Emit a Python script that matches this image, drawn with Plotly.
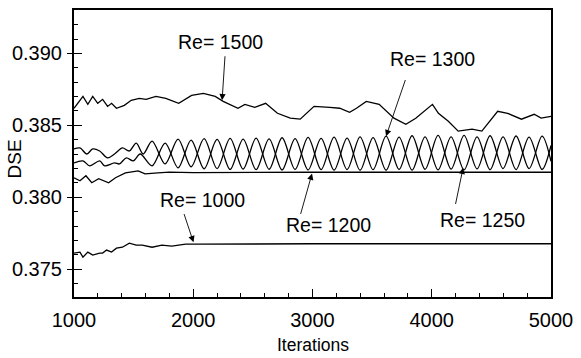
import plotly.graph_objects as go

# ---------------- data ----------------
re1500_x = [1000, 1075, 1116, 1157, 1199, 1240, 1282, 1315, 1356, 1422, 1480, 1547, 1605, 1687,
            1770, 1878, 1986, 2085, 2184, 2251, 2375, 2433, 2516, 2607, 2706, 2814, 2897, 3013,
            3145, 3228, 3311, 3369, 3451, 3559, 3683, 3783, 3866, 4006, 4056, 4139, 4222, 4338,
            4420, 4503, 4553, 4636, 4752, 4859, 4917, 5000]
re1500_y = [0.38619, 0.38701, 0.38646, 0.38701, 0.38653, 0.38681, 0.38632, 0.38653, 0.38619, 0.38639,
            0.38674, 0.38688, 0.38681, 0.38701, 0.38688, 0.38653, 0.38708, 0.38722, 0.38701, 0.38667,
            0.38619, 0.38646, 0.38625, 0.38653, 0.38584, 0.38550, 0.38543, 0.38632, 0.38625, 0.38619,
            0.38591, 0.38619, 0.38667, 0.38646, 0.38550, 0.38508, 0.38550, 0.38646, 0.38584, 0.38529,
            0.38460, 0.38474, 0.38460, 0.38550, 0.38598, 0.38584, 0.38543, 0.38577, 0.38550, 0.38563]

re1300_x = [1000, 1050, 1108, 1157, 1215, 1282, 1340, 1406, 1464, 1522, 1580,
            1655, 1764, 1873, 1982, 2091, 2200, 2309, 2418, 2527, 2636, 2745, 2854, 2963, 3072,
            3181, 3290, 3399, 3508, 3617, 3726, 3835, 3944, 4053, 4162, 4271, 4380, 4489, 4598,
            4707, 4816, 4925, 5000]
re1300_y = [0.38336, 0.38343, 0.38301, 0.38336, 0.38322, 0.38274, 0.38301, 0.38343, 0.38322, 0.38377, 0.38301,
            0.38391, 0.38232, 0.38405, 0.38212, 0.38408, 0.38200, 0.38410, 0.38196, 0.38412, 0.38195,
            0.38414, 0.38194, 0.38416, 0.38193, 0.38418, 0.38193, 0.38420, 0.38192, 0.38425, 0.38194,
            0.38428, 0.38195, 0.38430, 0.38196, 0.38430, 0.38198, 0.38428, 0.38200, 0.38426, 0.38200,
            0.38425, 0.38250]

re1250_x = [1000, 1075, 1132, 1215, 1257, 1340, 1381, 1439, 1497, 1555,
            1655, 1764, 1873, 1982, 2091, 2200, 2309, 2418, 2527, 2636, 2745, 2854, 2963, 3072,
            3181, 3290, 3399, 3508, 3617, 3726, 3835, 3944, 4053, 4162, 4271, 4380, 4489, 4598,
            4707, 4816, 4925, 5000]
re1250_y = [0.38239, 0.38253, 0.38219, 0.38253, 0.38219, 0.38239, 0.38232, 0.38274, 0.38253, 0.38301,
            0.38219, 0.38377, 0.38205, 0.38398, 0.38198, 0.38402, 0.38194, 0.38405, 0.38192, 0.38406,
            0.38190, 0.38408, 0.38190, 0.38410, 0.38189, 0.38412, 0.38188, 0.38415, 0.38188, 0.38418,
            0.38189, 0.38420, 0.38190, 0.38420, 0.38190, 0.38420, 0.38192, 0.38420, 0.38193, 0.38418,
            0.38194, 0.38360]

re1200_x = [1000, 1050, 1100, 1149, 1207, 1290, 1348, 1431, 1538, 1596, 1704, 1800, 2000, 2500, 3000, 4000, 5000]
re1200_y = [0.38136, 0.38115, 0.38150, 0.38101, 0.38129, 0.38101, 0.38136, 0.38170, 0.38184, 0.38163,
            0.38170, 0.38175, 0.38172, 0.38175, 0.38174, 0.38174, 0.38174]

re1000_x = [1000, 1050, 1075, 1116, 1157, 1215, 1240, 1273, 1315, 1356, 1406, 1464, 1522, 1572,
            1655, 1737, 1820, 1936, 2044, 2500, 3000, 5000]
re1000_y = [0.37612, 0.37619, 0.37584, 0.37619, 0.37598, 0.37612, 0.37612, 0.37633, 0.37619, 0.37646,
            0.37653, 0.37681, 0.37667, 0.37667, 0.37653, 0.37667, 0.37660, 0.37674, 0.37674, 0.37676,
            0.37677, 0.37677]

x_ticks = [1000, 2000, 3000, 4000, 5000]
x_tick_text = ["1000", "2000", "3000", "4000", "5000"]
y_ticks = [0.375, 0.380, 0.385, 0.390]
y_tick_text = ["0.375", "0.380", "0.385", "0.390"]

labels = ["Re= 1500", "Re= 1300", "Re= 1000", "Re= 1200", "Re= 1250"]
label_x = [2226, 4006, 2081, 3133, 4425]
label_y = [0.39081, 0.38963, 0.37981, 0.37808, 0.37839]
arrow_tail_x = [2267, 3783, 1919, 2897, 4197]
arrow_tail_y = [0.38991, 0.38826, 0.37894, 0.37874, 0.37943]
arrow_head_x = [2242, 3617, 2002, 2996, 4263]
arrow_head_y = [0.38674, 0.38425, 0.37687, 0.38165, 0.38205]

X_RANGE = [1000, 5000]
Y_RANGE = [0.37307, 0.39302]

FONT = "Liberation Sans, Arial, sans-serif"

fig = go.Figure()
line = dict(color="black", width=1.3)
fig.add_trace(go.Scatter(x=re1500_x, y=re1500_y, mode="lines", line=line))
fig.add_trace(go.Scatter(x=re1300_x, y=re1300_y, mode="lines",
                         line=dict(color="black", width=1.3, shape="spline", smoothing=0.9)))
fig.add_trace(go.Scatter(x=re1250_x, y=re1250_y, mode="lines",
                         line=dict(color="black", width=1.3, shape="spline", smoothing=0.9)))
fig.add_trace(go.Scatter(x=re1200_x, y=re1200_y, mode="lines", line=line))
fig.add_trace(go.Scatter(x=re1000_x, y=re1000_y, mode="lines", line=line))
# helper trace so the second (tick-only) y axis is drawn
fig.add_trace(go.Scatter(x=[None], y=[None], yaxis="y2", mode="lines", hoverinfo="skip"))

annotations = []
for t, lx, ly in zip(labels, label_x, label_y):
    annotations.append(dict(x=lx, y=ly, xref="x", yref="y", text=t, showarrow=False,
                            font=dict(family=FONT, size=19.5, color="black"),
                            xanchor="center", yanchor="middle"))
for tx, ty, hx, hy in zip(arrow_tail_x, arrow_tail_y, arrow_head_x, arrow_head_y):
    annotations.append(dict(x=hx, y=hy, ax=tx, ay=ty, xref="x", yref="y", axref="x", ayref="y",
                            text="", showarrow=True, arrowhead=2, arrowsize=1.4,
                            arrowwidth=0.9, arrowcolor="black", standoff=0, startstandoff=0))
annotations.append(dict(x=0.5, y=0, xref="paper", yref="paper", text="Iterations",
                        showarrow=False, yshift=-48, xanchor="center", yanchor="middle",
                        font=dict(family=FONT, size=17.5, color="black")))
annotations.append(dict(x=0, y=0.5, xref="paper", yref="paper", text="DSE", textangle=-90,
                        showarrow=False, xshift=-60, yshift=-6, xanchor="center", yanchor="middle",
                        font=dict(family=FONT, size=19, color="black")))

fig.update_layout(
    width=581, height=358,
    margin=dict(l=74, r=24, t=8, b=61),
    paper_bgcolor="white", plot_bgcolor="white",
    showlegend=False,
    font=dict(family=FONT, size=19, color="black"),
    annotations=annotations,
    xaxis=dict(range=X_RANGE, tickvals=x_ticks, ticktext=x_tick_text,
               ticks="inside", ticklen=8, tickwidth=1.3, tickcolor="black",
               minor=dict(dtick=200, tick0=1000, ticks="inside", ticklen=4, tickwidth=1, tickcolor="black"),
               showline=True, linecolor="black", linewidth=2, mirror=True,
               showgrid=False, zeroline=False, ticklabelstandoff=4,
               tickfont=dict(family=FONT, size=20, color="black")),
    yaxis=dict(range=Y_RANGE, tickvals=y_ticks, ticktext=y_tick_text,
               ticks="inside", ticklen=8, tickwidth=1.3, tickcolor="black",
               minor=dict(dtick=0.001, tick0=0.375, ticks="inside", ticklen=4, tickwidth=1, tickcolor="black"),
               showline=True, linecolor="black", linewidth=2, mirror=True,
               showgrid=False, zeroline=False, ticklabelstandoff=6,
               tickfont=dict(family=FONT, size=20, color="black")),
    yaxis2=dict(range=Y_RANGE, overlaying="y", side="left", tickvals=y_ticks,
                ticks="outside", ticklen=6, tickwidth=1.3, tickcolor="black",
                showticklabels=False, showline=False, showgrid=False, zeroline=False),
)

fig.write_html("out.html")
